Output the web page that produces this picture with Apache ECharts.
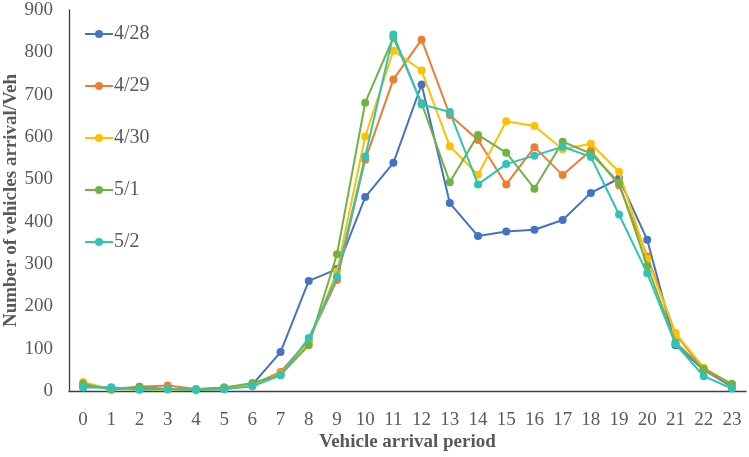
<!DOCTYPE html>
<html>
<head>
<meta charset="utf-8">
<script src="https://cdn.jsdelivr.net/npm/echarts@6/dist/echarts.min.js"></script>
<style>
  html, body { margin: 0; padding: 0; background: #fff; }
  #chart { width: 749px; height: 457px; }
</style>
</head>
<body>
<div id="chart"></div>
<script>
// hours of the day
const hours = ['0','1','2','3','4','5','6','7','8','9','10','11','12','13','14','15','16','17','18','19','20','21','22','23'];

// vehicles arriving per hour
const apr28 = [10, 8, 5, 5, 3, 5, 15, 92, 260, 288, 458, 539, 724, 444, 366, 377, 381, 404, 468, 502, 357, 108, 50, 10];
const apr29 = [15, 5, 10, 13, 5, 8, 15, 45, 120, 262, 546, 736, 830, 652, 593, 488, 576, 510, 568, 486, 318, 135, 50, 15];
const apr30 = [21, 5, 3, 3, 3, 5, 15, 40, 115, 283, 601, 804, 757, 578, 511, 637, 626, 571, 584, 518, 312, 137, 55, 15];
const may1 = [17, 3, 10, 5, 3, 8, 19, 38, 108, 323, 681, 835, 680, 493, 605, 563, 478, 589, 561, 492, 295, 115, 52, 17];
const may2 = [8, 8, 3, 5, 3, 4, 11, 37, 125, 270, 554, 842, 677, 659, 488, 536, 556, 577, 553, 417, 278, 111, 35, 6];

const seriesNames = ['4/28', '4/29', '4/30', '5/1', '5/2'];
const seriesData = [apr28, apr29, apr30, may1, may2];
const colors = ['#4472C4', '#ED7D31', '#FFC000', '#70B344', '#31C3B5'];

const font = 'Liberation Serif, Times New Roman, serif';

const chart = echarts.init(document.getElementById('chart'));

chart.setOption({
    animation: false,
    color: colors,
    textStyle: { fontFamily: font },
    // fixed plot box, don't let v6 shrink it to fit labels
    grid: { left: 69, right: 3, top: 10, bottom: 66, outerBoundsMode: 'none', containLabel: false },
    legend: {
        orient: 'vertical',
        left: 79,
        top: 19,
        itemGap: 32,
        itemWidth: 28,
        itemHeight: 10,
        textStyle: { fontFamily: font, fontSize: 20, color: '#595959', padding: [0, 0, 0, -4] },
        data: seriesNames
    },
    xAxis: {
        type: 'category',
        data: hours,
        boundaryGap: true,
        name: 'Vehicle arrival period',
        nameLocation: 'middle',
        nameGap: 42,
        nameMoveOverlap: false,
        nameTextStyle: { fontFamily: font, fontSize: 19, fontWeight: 'bold', color: '#595959' },
        axisLine: { lineStyle: { color: '#404040', width: 1.3 } },
        axisTick: { show: false },
        axisLabel: { fontFamily: font, fontSize: 19, color: '#595959', margin: 20 }
    },
    yAxis: {
        type: 'value',
        min: 0,
        max: 900,
        interval: 100,
        name: 'Number of vehicles arrival/Veh',
        nameLocation: 'middle',
        nameGap: 48,
        nameMoveOverlap: false,
        nameTextStyle: { fontFamily: font, fontSize: 19, fontWeight: 'bold', color: '#595959' },
        axisLine: { show: true, lineStyle: { color: '#404040', width: 1.3 } },
        axisTick: { show: false },
        splitLine: { show: false },
        axisLabel: { fontFamily: font, fontSize: 19, color: '#595959', margin: 16 }
    },
    series: seriesNames.map((name, i) => ({
        name: name,
        type: 'line',
        data: seriesData[i],
        symbol: 'circle',
        symbolSize: 8,
        lineStyle: { width: 2 },
        z: 2 + i
    }))
});
</script>
</body>
</html>
